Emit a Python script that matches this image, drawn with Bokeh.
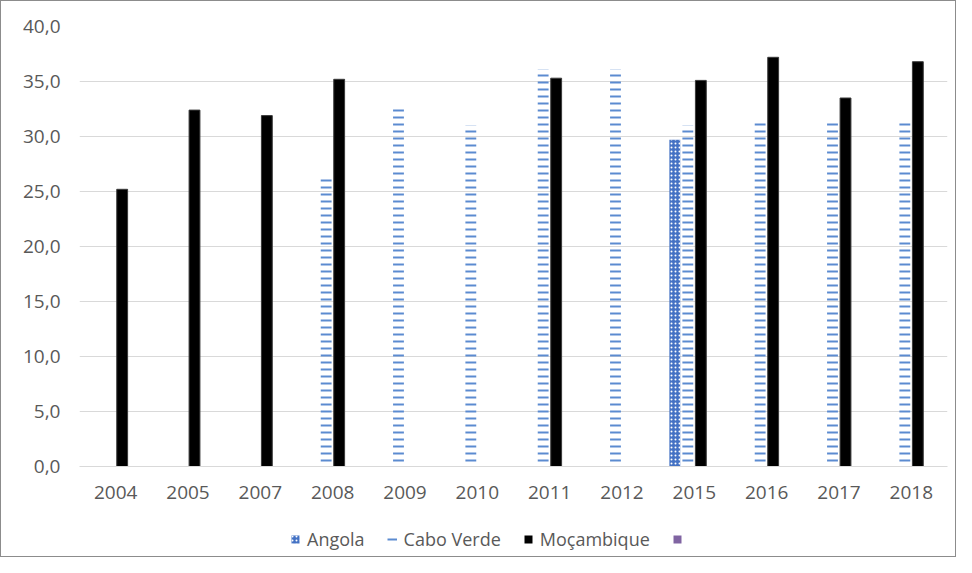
import numpy as np
from bokeh.plotting import figure
from bokeh.layouts import column
from bokeh.models import FactorRange, Range1d, ColumnDataSource, FixedTicker, Legend, LegendItem
from bokeh.transform import dodge
from bokeh.embed import file_html
from bokeh.resources import INLINE

# ---- data ----
years = ["2004", "2005", "2007", "2008", "2009", "2010", "2011", "2012", "2015", "2016", "2017", "2018"]
angola = [None, None, None, None, None, None, None, None, 29.7, None, None, None]
cabo_verde = [None, None, None, 26.5, 32.8, 31.0, 36.1, 36.1, 31.0, 31.5, 31.5, 31.5]
mocambique = [25.2, 32.4, 31.9, 35.2, None, None, 35.3, None, 35.1, 37.2, 33.5, 36.8]
ytick_values = [0, 5, 10, 15, 20, 25, 30, 35, 40]
ytick_labels = ["0,0", "5,0", "10,0", "15,0", "20,0", "25,0", "30,0", "35,0", "40,0"]
series_names = ["Angola", "Cabo Verde", "Moçambique", " "]

FONT = "Open Sans"
TXT = "#595959"
W = 0.15
BLUE = "#4472C4"
LBLUE = "#5B8BD0"
PURPLE = "#8064A2"

ANG_STYLE = dict(fill_color=BLUE, line_color=None, hatch_pattern="dot", hatch_color="white",
                 hatch_scale=4, hatch_weight=1.0)
CV_STYLE = dict(fill_color="white", fill_alpha=0.0, line_color=None, hatch_pattern="horizontal_line",
                hatch_color=LBLUE, hatch_scale=7, hatch_weight=2)
MOZ_STYLE = dict(fill_color="black", line_color="#3a3a3a", line_width=1)


def src(vals):
    xs = [y for y, v in zip(years, vals) if v is not None]
    vs = [v for v in vals if v is not None]
    return ColumnDataSource(dict(year=xs, val=vs))


fig = figure(width=954, height=514, x_range=FactorRange(*years), y_range=Range1d(0, 40),
             output_backend="svg", toolbar_location=None,
             min_border_left=78, min_border_right=8, min_border_top=25, min_border_bottom=49)
fig.outline_line_color = None
fig.background_fill_color = "white"
fig.border_fill_color = "white"

fig.vbar(x=dodge("year", -0.27, range=fig.x_range), top="val", width=W, source=src(angola), **ANG_STYLE)
fig.vbar(x=dodge("year", -0.09, range=fig.x_range), top="val", width=W, source=src(cabo_verde), **CV_STYLE)
fig.vbar(x=dodge("year", 0.09, range=fig.x_range), top="val", width=W, source=src(mocambique), **MOZ_STYLE)

fig.xgrid.grid_line_color = None
fig.ygrid.grid_line_color = "#d9d9d9"
fig.ygrid.grid_line_width = 1
fig.yaxis.ticker = FixedTicker(ticks=ytick_values)
fig.yaxis.major_label_overrides = {v: l for v, l in zip(ytick_values, ytick_labels)}
for ax in (fig.xaxis[0], fig.yaxis[0]):
    ax.major_tick_line_color = None
    ax.minor_tick_line_color = None
    ax.major_tick_in = 0
    ax.major_tick_out = 0
    ax.minor_tick_in = 0
    ax.minor_tick_out = 0
    ax.major_label_text_font = FONT
    ax.major_label_text_font_size = "19px"
    ax.major_label_text_color = TXT
fig.yaxis.axis_line_color = None
fig.yaxis.major_label_standoff = 19
fig.xaxis.axis_line_color = "#d9d9d9"
fig.xaxis.major_label_standoff = 19

# ---- legend strip ----
leg = figure(width=954, height=41, x_range=FactorRange(*years), y_range=Range1d(0, 1),
             output_backend="svg", toolbar_location=None, x_axis_type=None, y_axis_type=None,
             min_border=0)
leg.outline_line_color = None
leg.grid.grid_line_color = None
leg.background_fill_color = "white"
leg.border_fill_color = "white"
dummy = ColumnDataSource(dict(year=[years[0]], val=[np.nan]))
l_ang = leg.vbar(x="year", top="val", width=W, source=dummy, **ANG_STYLE)
l_cv = leg.line(x="year", y="val", source=dummy, line_color=LBLUE, line_width=2)
l_moz = leg.vbar(x="year", top="val", width=W, source=dummy, fill_color="black", line_color=None)
l_pur = leg.vbar(x="year", top="val", width=W, source=dummy, fill_color=PURPLE, line_color=None)

legend = Legend(items=[LegendItem(label=n, renderers=[r]) for n, r in
                       zip(series_names, [l_ang, l_cv, l_moz, l_pur])],
                orientation="horizontal", location=(211, 5))
legend.label_text_font = FONT
legend.label_text_font_size = "18px"
legend.label_text_color = TXT
legend.glyph_width = 10
legend.glyph_height = 10
legend.label_standoff = 7
legend.spacing = 22
legend.padding = 4
legend.margin = 0
legend.border_line_color = None
legend.background_fill_alpha = 0
leg.add_layout(legend)

p = column(fig, leg, spacing=0)
p.styles = {"border": "1px solid #8c8c8c"}

open("out.html", "w").write(file_html(p, INLINE))
